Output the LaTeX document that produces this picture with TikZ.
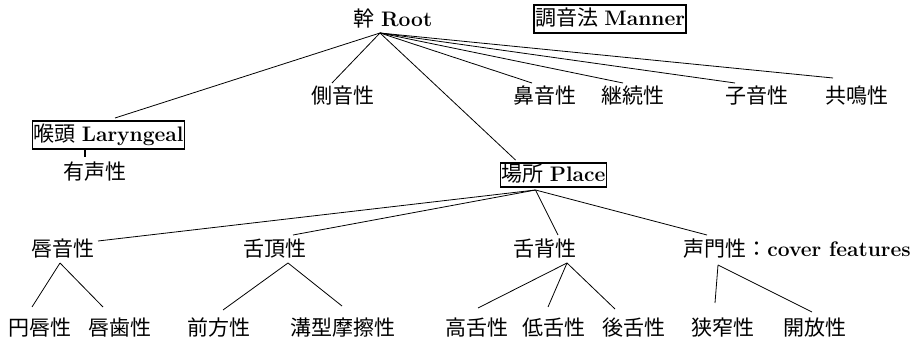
\documentclass[tikz,border=0pt]{standalone}
\usepackage{fontspec}
\newfontfamily\cjk{Noto Sans CJK JP}
\usetikzlibrary{calc}
\newcommand\jp[1]{{\cjk #1}}
\newcommand\lt[1]{{\bfseries #1}}
\begin{document}
\begin{tikzpicture}[x=1pt,y=-1pt,
  lbl/.style={inner sep=0pt,font=\fontsize{21}{24}\selectfont,text height=17pt,text depth=3pt},
  bx/.style={lbl,draw,line width=1.8pt,inner xsep=1pt,inner ysep=4pt},
  edge/.style={line width=0.8pt}]
\useasboundingbox (0,0) rectangle (920,344);
% top
\node[lbl] (root) at (393,20) {\jp{幹} \lt{Root}};
\node[bx] (manner) at (610,19) {\jp{調音法} \lt{Manner}};
% row 2
\node[lbl] (lat) at (343,97) {\jp{側音性}};
\node[lbl] (nas) at (545,97) {\jp{鼻音性}};
\node[lbl] (cont) at (633,97) {\jp{継続性}};
\node[lbl] (cons) at (757,97) {\jp{子音性}};
\node[lbl] (son) at (857,97) {\jp{共鳴性}};
\node[bx] (lar) at (108.5,135) {\jp{喉頭} \lt{Laryngeal}};
\node[lbl] (voi) at (95,173) {\jp{有声性}};
\node[bx,inner ysep=2pt] (place) at (553.5,175) {\jp{場所} \lt{Place}};
% row 3
\node[lbl] (lab) at (63,250) {\jp{唇音性}};
\node[lbl] (cor) at (275,250) {\jp{舌頂性}};
\node[lbl] (dor) at (545,250) {\jp{舌背性}};
\node[lbl] (glo) at (797,250) {\jp{声門性：}\lt{cover features}};
% row 4
\node[lbl] (rnd) at (40,328) {\jp{円唇性}};
\node[lbl] (ld) at (120,328) {\jp{唇歯性}};
\node[lbl] (ant) at (219,328) {\jp{前方性}};
\node[lbl] (dis) at (343,328) {\jp{溝型摩擦性}};
\node[lbl] (hi) at (477,328) {\jp{高舌性}};
\node[lbl] (lo) at (554,328) {\jp{低舌性}};
\node[lbl] (bk) at (634,328) {\jp{後舌性}};
\node[lbl] (con) at (723,328) {\jp{狭窄性}};
\node[lbl] (spr) at (815,328) {\jp{開放性}};
% connectors from root
\coordinate (r) at ($(root.center)+(-13,13)$);
\draw[edge] (r) -- ($(lar.center)+(6.5,-17)$);
\draw[edge] (r) -- ($(lat.center)+(-11,-14)$);
\draw[edge] (r) -- ($(place.center)+(-38,-15)$);
\draw[edge] (r) -- ($(nas.center)+(-13,-14)$);
\draw[edge] (r) -- ($(cont.center)+(-10,-14)$);
\draw[edge] (r) -- ($(cons.center)+(-22,-14)$);
\draw[edge] (r) -- ($(son.center)+(-24,-19)$);
% laryngeal
\draw[line width=1.8pt] ($(lar.center)+(-23.5,15)$) -- ($(voi.center)+(-10,-16)$);
% place
\coordinate (p) at ($(place.center)+(-18,15)$);
\draw[edge] (p) -- ($(lab.center)+(35,-9)$);
\draw[edge] (p) -- ($(cor.center)+(18,-15)$);
\draw[edge] (p) -- ($(dor.center)+(13,-15)$);
\draw[edge] (p) -- ($(glo.center)+(-90,-15)$);
% labial
\draw[edge] ($(lab.center)+(-3,13)$) -- ($(rnd.center)+(-8,-21)$);
\draw[edge] ($(lab.center)+(-3,13)$) -- ($(ld.center)+(-17,-21)$);
% coronal
\draw[edge] ($(cor.center)+(13,13)$) -- ($(ant.center)+(4,-18)$);
\draw[edge] ($(cor.center)+(13,13)$) -- ($(dis.center)+(-1,-22)$);
% dorsal
\draw[edge] ($(dor.center)+(22,13)$) -- ($(hi.center)+(1,-20)$);
\draw[edge] ($(dor.center)+(22,13)$) -- ($(lo.center)+(-6,-21)$);
\draw[edge] ($(dor.center)+(22,13)$) -- ($(bk.center)+(-19,-19)$);
% glottal
\draw[edge] ($(glo.center)+(-79,15)$) -- ($(con.center)+(-8,-25)$);
\draw[edge] ($(glo.center)+(-79,15)$) -- ($(spr.center)+(-3,-16)$);
\end{tikzpicture}
\end{document}
